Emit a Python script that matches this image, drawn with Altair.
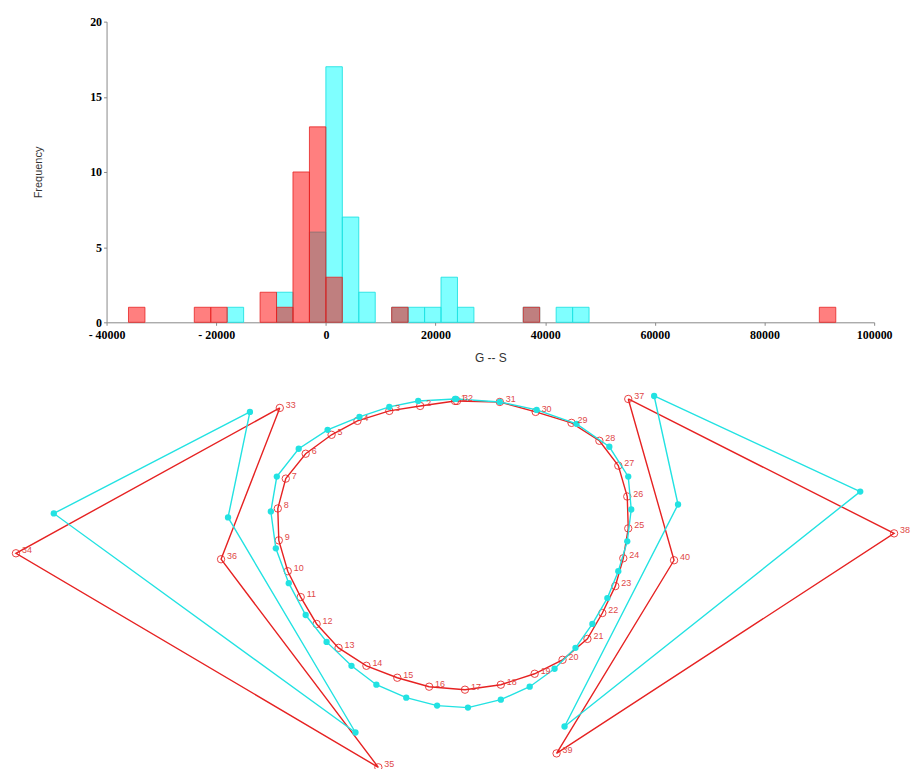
import altair as alt
import pandas as pd

# ---------------- Histogram of G - S (bin width 3000) ----------------
bin_width = 3000
red_bin_starts = [-36000, -24000, -21000, -12000, -9000, -6000, -3000, 0, 12000, 36000, 90000]
red_counts = [1, 1, 1, 2, 1, 10, 13, 3, 1, 1, 1]
cyan_bin_starts = [-18000, -9000, -3000, 0, 3000, 6000, 12000, 15000, 18000, 21000, 24000,
                   36000, 42000, 45000]
cyan_counts = [1, 2, 6, 17, 7, 2, 1, 1, 1, 3, 1, 1, 1, 1]

x_ticks = [-40000, -20000, 0, 20000, 40000, 60000, 80000, 100000]
y_ticks = [0, 5, 10, 15, 20]

# ---------------- Landmark configurations (40 landmarks) ----------------
landmarks = list(range(1, 41))
red_x = [0.00, -0.35, -0.66, -0.98, -1.24, -1.50, -1.70, -1.78, -1.77, -1.68,
         -1.55, -1.39, -1.17, -0.89, -0.58, -0.26, 0.10, 0.46, 0.80, 1.08,
         1.33, 1.48, 1.61, 1.69, 1.74, 1.73, 1.64, 1.45, 1.17, 0.81,
         0.45, 0.02, -1.76, -4.41, -0.77, -2.35, 1.74, 4.41, 1.02, 2.20]
red_y = [1.45, 1.40, 1.35, 1.25, 1.11, 0.92, 0.67, 0.37, 0.05, -0.26,
         -0.52, -0.79, -1.03, -1.21, -1.33, -1.42, -1.45, -1.40, -1.29, -1.15,
         -0.94, -0.68, -0.41, -0.13, 0.17, 0.49, 0.80, 1.05, 1.23, 1.34,
         1.44, 1.45, 1.38, -0.08, -2.23, -0.14, 1.47, 0.12, -2.09, -0.15]
cyan_x = [0.00, -0.37, -0.66, -0.96, -1.28, -1.57, -1.79, -1.85, -1.80, -1.67,
          -1.50, -1.29, -1.04, -0.79, -0.49, -0.18, 0.13, 0.46, 0.75, 1.00,
          1.21, 1.38, 1.53, 1.64, 1.73, 1.77, 1.74, 1.55, 1.22, 0.82,
          0.45, 0.01, -2.06, -4.03, -1.00, -2.28, 2.00, 4.07, 1.10, 2.24]
cyan_y = [1.47, 1.45, 1.39, 1.29, 1.16, 0.97, 0.69, 0.34, -0.03, -0.38,
          -0.70, -0.97, -1.21, -1.40, -1.53, -1.61, -1.63, -1.55, -1.42, -1.24,
          -1.03, -0.79, -0.53, -0.26, 0.04, 0.36, 0.69, 0.99, 1.22, 1.36,
          1.44, 1.47, 1.34, 0.32, -1.88, 0.28, 1.50, 0.54, -1.82, 0.41]

paths = {
    "contour": list(range(1, 33)) + [1],
    "left": [33, 34, 35, 36, 33],
    "right": [37, 38, 39, 40, 37],
}

RED = "#E62222"
CYAN = "#22E2E2"

# ---------------- build tables ----------------
def hist_table(starts, counts):
    return pd.DataFrame({"start": starts,
                         "end": [s + bin_width for s in starts],
                         "count": counts,
                         "base": [0] * len(starts)})

red_hist = hist_table(red_bin_starts, red_counts)
cyan_hist = hist_table(cyan_bin_starts, cyan_counts)

def points_table(xs, ys):
    return pd.DataFrame({"id": landmarks, "x": xs, "y": ys, "label": [str(i) for i in landmarks]})

def path_table(xs, ys):
    rows = []
    for name, ids in paths.items():
        for k, i in enumerate(ids):
            rows.append({"path": name, "seq": k, "x": xs[i - 1], "y": ys[i - 1]})
    return pd.DataFrame(rows)

red_pts = points_table(red_x, red_y)
cyan_pts = points_table(cyan_x, cyan_y)
red_path = path_table(red_x, red_y)
cyan_path = path_table(cyan_x, cyan_y)

# ---------------- top: histogram ----------------
hx = alt.Scale(domain=[-40000, 100000], nice=False)
hy = alt.Scale(domain=[0, 20], nice=False)
x_axis = alt.Axis(values=x_ticks, title="G -- S", titlePadding=12, labelFlush=False,
                  labelPadding=4,
                  labelExpr="datum.value < 0 ? '- ' + abs(datum.value) : '' + datum.value")
y_axis = alt.Axis(values=y_ticks, title="Frequency", titlePadding=46, titleFontSize=11,
                  labelFlush=False, labelExpr="'' + datum.value")

cyan_bars = alt.Chart(cyan_hist).mark_rect(
    fill="#00FFFF", fillOpacity=0.5, stroke=CYAN, strokeWidth=1, strokeOpacity=0.9
).encode(
    x=alt.X("start:Q", scale=hx, axis=x_axis), x2="end:Q",
    y=alt.Y("count:Q", scale=hy, axis=y_axis), y2="base:Q",
)
red_bars = alt.Chart(red_hist).mark_rect(
    fill="#FF0000", fillOpacity=0.5, stroke=RED, strokeWidth=1, strokeOpacity=0.8
).encode(
    x=alt.X("start:Q", scale=hx, axis=x_axis), x2="end:Q",
    y=alt.Y("count:Q", scale=hy, axis=y_axis), y2="base:Q",
)
hist = alt.layer(cyan_bars, red_bars).properties(width=771, height=302)

# ---------------- bottom: landmark configurations ----------------
sx = alt.Scale(domain=[-3.50, 4.21], nice=False, zero=False)
sy = alt.Scale(domain=[-2.20, 1.60], nice=False, zero=False)
X = alt.X("x:Q", scale=sx, axis=None)
Y = alt.Y("y:Q", scale=sy, axis=None)

red_lines = alt.Chart(red_path).mark_line(color=RED, strokeWidth=1.4).encode(
    x=X, y=Y, detail="path:N", order="seq:Q")
red_circles = alt.Chart(red_pts).mark_point(
    shape="circle", filled=False, color=RED, size=55, strokeWidth=1, opacity=0.85
).encode(x=X, y=Y)
cyan_lines = alt.Chart(cyan_path).mark_line(color=CYAN, strokeWidth=1.4).encode(
    x=X, y=Y, detail="path:N", order="seq:Q")
cyan_dots = alt.Chart(cyan_pts).mark_circle(color=CYAN, size=40, opacity=1).encode(x=X, y=Y)
red_labels = alt.Chart(red_pts).mark_text(
    color="#E04848", fontSize=9, font="Liberation Sans", align="left", baseline="middle",
    dx=6, dy=-3
).encode(x=X, y=Y, text="label:N")

shape = alt.layer(red_lines, red_circles, cyan_lines, cyan_dots, red_labels).properties(
    width=771, height=380)

chart = alt.vconcat(hist, shape, spacing=23).properties(
    padding={"left": 2, "top": 6, "right": 0, "bottom": 0}
).configure_view(stroke=None).configure_axis(
    grid=False, domainColor="#888888", tickColor="#888888", tickSize=3,
    labelFont="Liberation Serif", labelFontWeight="bold", labelFontSize=12, labelColor="black",
    titleFont="Liberation Sans", titleFontWeight="normal", titleFontSize=12, titleColor="#333333",
)

chart.save("out.html", embed_options={"renderer": "svg", "actions": False})
